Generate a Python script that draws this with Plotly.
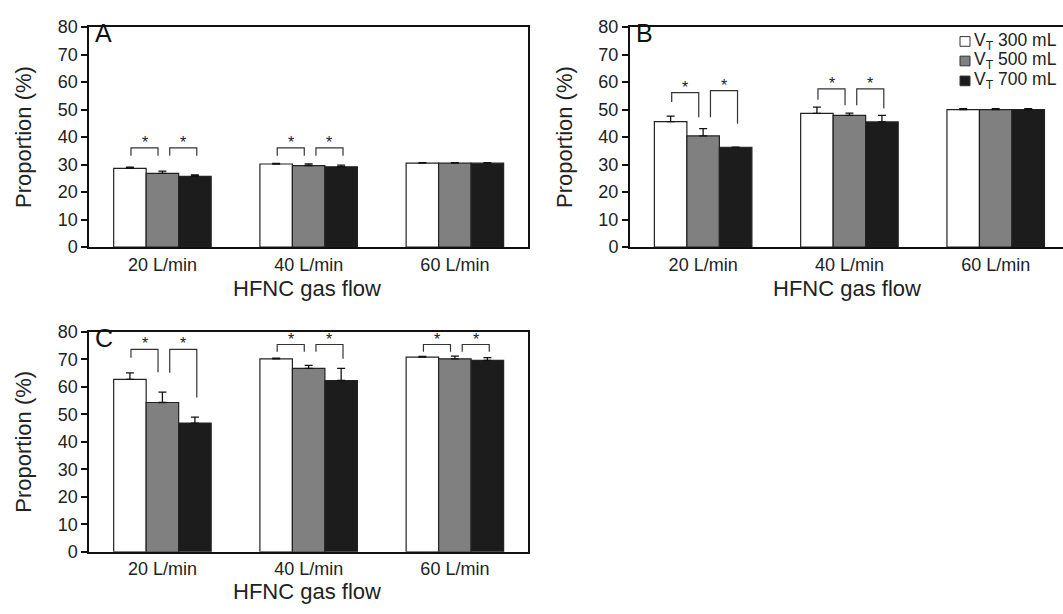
import plotly.graph_objects as go

# ---------------- data ----------------
categories = ["20 L/min", "40 L/min", "60 L/min"]
series_names = ["V<sub>T</sub> 300 mL", "V<sub>T</sub> 500 mL", "V<sub>T</sub> 700 mL"]

# Panel A
A_300 = [28.6, 30.2, 30.5]
A_500 = [26.8, 29.6, 30.5]
A_700 = [25.7, 29.2, 30.5]
A_300_err = [0.5, 0.2, 0.2]
A_500_err = [0.8, 0.6, 0.2]
A_700_err = [0.5, 0.6, 0.2]

# Panel B
B_300 = [45.6, 48.6, 50.0]
B_500 = [40.4, 47.9, 50.0]
B_700 = [36.3, 45.5, 50.0]
B_300_err = [2.0, 2.3, 0.3]
B_500_err = [2.7, 0.8, 0.3]
B_700_err = [0.0, 2.4, 0.3]

# Panel C
C_300 = [62.7, 70.2, 70.8]
C_500 = [54.3, 66.7, 70.2]
C_700 = [46.8, 62.3, 69.6]
C_300_err = [2.4, 0.2, 0.3]
C_500_err = [3.8, 1.1, 1.0]
C_700_err = [2.2, 4.4, 1.0]

# significance brackets: (category index, pair 0=300vs500 / 1=500vs700, top, left leg end, right leg end)
A_brackets = [(0, 0, 36.1, 33.2, 33.2), (0, 1, 36.1, 33.2, 33.2),
              (1, 0, 36.1, 33.2, 33.2), (1, 1, 36.1, 33.2, 33.2)]
B_brackets = [(0, 0, 56.2, 52.8, 47.2), (0, 1, 56.9, 47.2, 44.8),
              (1, 0, 57.5, 53.6, 51.6), (1, 1, 57.5, 51.6, 50.4)]
C_brackets = [(0, 0, 73.6, 70.6, 65.3), (0, 1, 73.6, 65.1, 56.1),
              (1, 0, 75.4, 72.8, 72.8), (1, 1, 75.4, 72.8, 70.2),
              (2, 0, 75.4, 72.8, 72.8), (2, 1, 75.4, 72.8, 72.8)]

y_ticks = [0, 10, 20, 30, 40, 50, 60, 70, 80]
panel_labels = ["A", "B", "C"]
x_title = "HFNC gas flow"
y_title = "Proportion (%)"

# ---------------- style / geometry ----------------
FONT = "Liberation Sans, Arial, sans-serif"
fills = ["#ffffff", "#808080", "#1c1c1c"]
W, H = 1063, 614


def fx(px):
    return px / W


def fy(py):
    return 1 - py / H


panels = [
    dict(vals=[A_300, A_500, A_700], errs=[A_300_err, A_500_err, A_700_err],
         br=A_brackets, ax="", xdom=[fx(89.3), fx(528.0)], ytop=17.7, ybot=245.0,
         xr=[-0.5, 2.5], mirror_y=True, title_x=306.7, title_y=288),
    dict(vals=[B_300, B_500, B_700], errs=[B_300_err, B_500_err, B_700_err],
         br=B_brackets, ax="2", xdom=[fx(630.0), 1.0], ytop=17.7, ybot=245.0,
         xr=[-0.5, 2.46], mirror_y=False, title_x=846.7, title_y=288),
    dict(vals=[C_300, C_500, C_700], errs=[C_300_err, C_500_err, C_700_err],
         br=C_brackets, ax="3", xdom=[fx(89.3), fx(528.0)], ytop=332.7, ybot=560.0,
         xr=[-0.5, 2.5], mirror_y=True, title_x=306.7, title_y=601),
]

xpos = list(range(len(categories)))
fig = go.Figure()
shapes = []
annotations = []

for pi, p in enumerate(panels):
    xa = "x" + p["ax"]
    ya = "y" + p["ax"]
    for si in range(3):
        fig.add_trace(go.Bar(
            x=xpos, y=p["vals"][si], name=series_names[si],
            xaxis=xa, yaxis=ya,
            marker=dict(color=fills[si], line=dict(color="#222222", width=1.2)),
            error_y=dict(type="data", symmetric=False, array=p["errs"][si],
                         arrayminus=[0] * 3, color="#111111", thickness=1.3, width=4),
            showlegend=False,
        ))
    for (ci, pair, top, yl, yr) in p["br"]:
        if pair == 0:
            x1, x2 = ci - 0.215, ci - 0.03
        else:
            x1, x2 = ci + 0.05, ci + 0.235
        shapes.append(dict(type="path", xref=xa, yref=ya,
                           path=f"M {x1},{yl} L {x1},{top} L {x2},{top} L {x2},{yr}",
                           line=dict(color="#333333", width=1.2)))
        annotations.append(dict(x=(x1 + x2) / 2, y=top, xref=xa, yref=ya, text="*",
                                showarrow=False, yanchor="bottom", yshift=-5,
                                font=dict(family=FONT, size=16, color="#222222")))
    annotations.append(dict(x=0, y=1, xref=xa + " domain", yref=ya + " domain",
                            text=panel_labels[pi], showarrow=False, xanchor="left",
                            yanchor="top", xshift=4, yshift=10,
                            font=dict(family=FONT, size=25, color="#111111")))
    annotations.append(dict(x=fx(p["title_x"]), y=fy(p["title_y"]), xref="paper", yref="paper",
                            text=x_title, showarrow=False, xanchor="center",
                            yanchor="middle",
                            font=dict(family=FONT, size=22, color="#222222")))

    axis_common = dict(showline=True, linecolor="#111111", linewidth=2,
                       showgrid=False, zeroline=False)
    fig.update_layout(**{
        ("xaxis" + p["ax"]): dict(
            domain=p["xdom"], anchor=ya, range=p["xr"], tickmode="array",
            tickvals=xpos, ticktext=categories, ticks="", mirror=True,
            tickfont=dict(family=FONT, size=18, color="#222222"),
            **axis_common),
        ("yaxis" + p["ax"]): dict(
            domain=[fy(p["ybot"]), fy(p["ytop"])], anchor=xa,
            range=[0, 80], tickmode="array", tickvals=y_ticks, ticks="outside",
            ticklen=6, tickwidth=1.5, tickcolor="#111111", mirror=p["mirror_y"],
            tickfont=dict(family=FONT, size=18, color="#222222"),
            title=dict(text=y_title, font=dict(family=FONT, size=22, color="#222222"),
                       standoff=20),
            **axis_common),
    })

# legend (panel B, top right), built from the series names and fills
leg_y = [32.5, 52.7, 73.3]
for si in range(3):
    cy = leg_y[si]
    shapes.append(dict(type="rect", xref="paper", yref="paper",
                       x0=fx(960), x1=fx(970), y0=fy(cy + 5), y1=fy(cy - 5),
                       fillcolor=fills[si], line=dict(color="#333333", width=1)))
    annotations.append(dict(x=fx(972), y=fy(cy), xref="paper", yref="paper",
                            text=series_names[si], showarrow=False,
                            xanchor="left", yanchor="middle",
                            font=dict(family=FONT, size=17.5, color="#222222")))

fig.update_layout(
    width=W, height=H,
    margin=dict(l=0, r=0, t=0, b=0),
    paper_bgcolor="white", plot_bgcolor="white",
    barmode="group", bargap=1 / 3, bargroupgap=0,
    shapes=shapes, annotations=annotations,
    showlegend=False,
    font=dict(family=FONT),
)

fig.write_html("out.html",
               config={"displayModeBar": False},
               post_script="document.body.style.margin='0';document.body.style.overflow='hidden';")
